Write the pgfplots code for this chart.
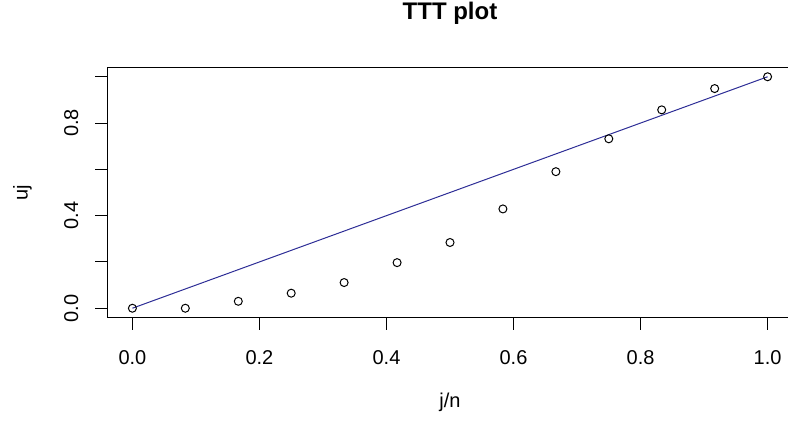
\documentclass[border=0pt]{standalone}
\usepackage{fontspec}
\setmainfont{Liberation Sans}
\usepackage{pgfplots}
\pgfplotsset{compat=1.18}
\definecolor{refline}{RGB}{45,45,150}
\begin{document}
\begin{tikzpicture}
\clip (0,0) rectangle (788pt,423pt);
\begin{axis}[
  at={(107pt,105.5pt)}, anchor=south west,
  scale only axis, width=686pt, height=250pt,
  xmin=-0.04, xmax=1.04, ymin=-0.04, ymax=1.04,
  axis line style={black, line width=0.9pt},
  every tick/.style={black, line width=0.9pt},
  tick align=outside, major tick length=12pt,
  xtick pos=bottom, ytick pos=left,
  xtick={0,0.2,0.4,0.6,0.8,1},
  xticklabels={0.0,0.2,0.4,0.6,0.8,1.0},
  ytick={0,0.2,0.4,0.6,0.8,1},
  yticklabels={0.0,{},0.4,{},0.8,{}},
  tick label style={font=\fontsize{20}{24}\selectfont, inner sep=0pt},
  xticklabel style={anchor=base},
  yticklabel style={rotate=90, anchor=base},
  xticklabel shift=35pt,
  yticklabel shift=17pt,
  title={\bfseries TTT plot},
  title style={at={(axis description cs:0.5,1.166)}, anchor=base, inner sep=0pt,
    font=\fontsize{24}{28}\selectfont},
  xlabel={j/n},
  ylabel={uj},
  every axis x label/.style={at={(axis description cs:0.5,-0.362)}, anchor=base,
    inner sep=0pt, font=\fontsize{20}{24}\selectfont},
  every axis y label/.style={at={(axis description cs:-0.1156,0.5)}, rotate=90,
    anchor=base, inner sep=0pt, font=\fontsize{20}{24}\selectfont},
]
% reference diagonal
\addplot[refline, line width=1pt] coordinates {(0,0) (1,1)};
% scaled total time on test
\addplot[only marks, mark=o, mark size=4pt, mark options={black, line width=1pt}]
  table[row sep=\\] {
  x y \\
  0.0000 0.000 \\
  0.0833 0.000 \\
  0.1667 0.030 \\
  0.2500 0.065 \\
  0.3333 0.111 \\
  0.4167 0.197 \\
  0.5000 0.284 \\
  0.5833 0.429 \\
  0.6667 0.590 \\
  0.7500 0.732 \\
  0.8333 0.857 \\
  0.9167 0.949 \\
  1.0000 1.000 \\
};
\end{axis}
\end{tikzpicture}
\end{document}
